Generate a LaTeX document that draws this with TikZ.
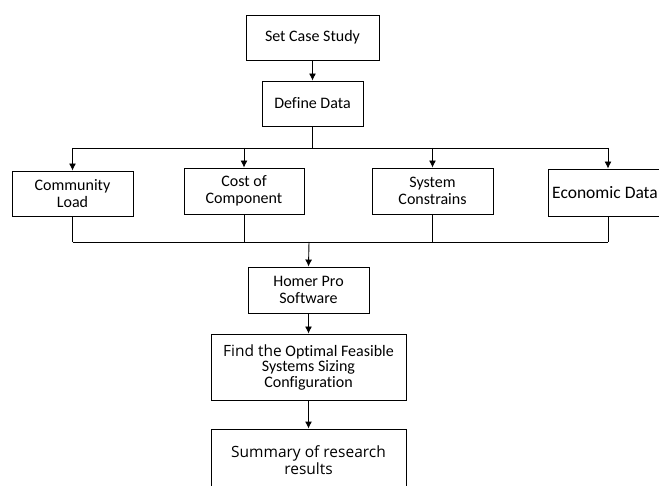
\documentclass[tikz,border=0pt]{standalone}
\usepackage{fontspec}
\setmainfont[Ligatures={NoCommon}]{Carlito}
\newfontfamily\osans{Open Sans}
\usetikzlibrary{arrows.meta}
\begin{document}
\begin{tikzpicture}[x=1pt,y=-1pt,
  box/.style={draw=black, line width=0.9pt, fill=white, align=center, inner sep=1pt,
    font=\fontsize{16}{17}\selectfont},
  conn/.style={draw=black, line width=0.9pt},
  arr/.style={conn, -{Latex[length=7pt,width=7pt]}}]
\useasboundingbox (0,0) rectangle (659,486);
\clip (0,0) rectangle (659,486);
\fill[white] (0,0) rectangle (659,486);
% boxes
\node[box, minimum width=133pt, minimum height=45pt] (set) at (312.5,37.5) {Set Case Study};
\node[box, minimum width=101pt, minimum height=45pt] (def) at (312.5,103.5) {Define Data};
\node[box, minimum width=121pt, minimum height=45pt] (comm) at (72.5,193.5) {Community\\Load};
\node[box, minimum width=120pt, minimum height=46pt] (cost) at (244,191) {Cost of\\Component};
\node[box, minimum width=121pt, minimum height=46pt] (sys) at (432.5,191) {System\\Constrains};
\node[box, minimum width=120pt, minimum height=47pt, font=\fontsize{17.5}{18}\selectfont] (eco) at (608,192.5) {\hspace*{-6pt}Economic Data};
\node[box, minimum width=121pt, minimum height=46pt] (homer) at (308.5,290) {Homer Pro\\Software};
\node[box, minimum width=195pt, minimum height=66pt, font=\fontsize{16}{15.5}\selectfont] (find) at (308.5,367)
  {{\osans\fontsize{15.5}{15.5}\selectfont Find the} Optimal Feasible\\Systems Sizing\\Configuration};
\node[box, minimum width=195pt, minimum height=62pt, font=\osans\fontsize{15.5}{16.5}\selectfont] (sum) at (308.5,460)
  {Summary of research\\results};
% bus coordinates
\coordinate (top) at (312.5,148);
\coordinate (bot) at (309,242);
% connectors
\draw[arr] (set.south) -- (def.north);
\draw[conn] (def.south) -- (top);
\draw[conn] (comm.north |- top) -- (eco.north |- top);
\foreach \n in {comm,cost,sys,eco}{
  \draw[arr] (\n.north |- top) -- (\n.north);
  \draw[conn] (\n.south) -- (\n.south |- bot);
}
\draw[conn] (comm.south |- bot) -- (eco.south |- bot);
\draw[arr] (bot) -- (homer.north);
\draw[arr] (homer.south) -- (find.north);
\draw[arr] (find.south) -- (sum.north);
\end{tikzpicture}
\end{document}
